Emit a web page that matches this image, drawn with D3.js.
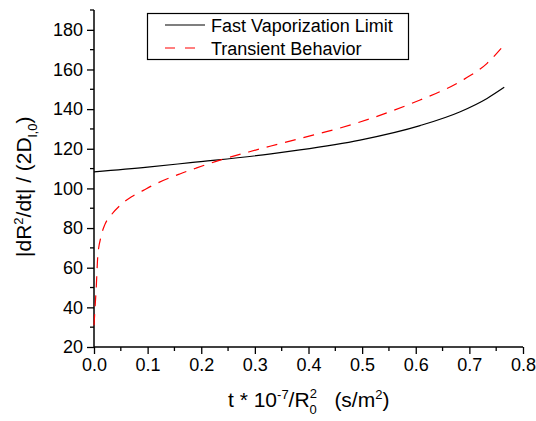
<!DOCTYPE html>
<html lang="en">
<head>
<meta charset="utf-8">
<script src="https://d3js.org/d3.v7.min.js"></script>
<style>
  body { margin: 0; background: #fff; }
  text { font-family: "Liberation Sans", Arial, sans-serif; fill: #000; }
</style>
</head>
<body>
<script>
// Fast Vaporization Limit (solid black)
const fastT = [0, 0.1, 0.18, 0.33, 0.384, 0.496, 0.608, 0.683, 0.733, 0.765];
const fastV = [108.3, 110.7, 113, 117.4, 119.4, 124.4, 131.7, 138.7, 145.4, 151];

// Transient Behavior (dashed red)
const transT = [0, 0.002, 0.004, 0.007, 0.013, 0.02, 0.031, 0.049, 0.07, 0.092, 0.11,
                0.16, 0.19, 0.235, 0.29, 0.33, 0.39, 0.45, 0.496, 0.55, 0.608, 0.683, 0.733, 0.765];
const transV = [31, 40, 49, 65.6, 75.6, 81.6, 86.2, 91.5, 95.8, 99, 101.6,
                107.3, 110.2, 114.3, 118.5, 121.4, 125.6, 129.8, 133.5, 138.5, 144.6, 153.9, 163.1, 172.4];

const xTicks = [0, 0.1, 0.2, 0.3, 0.4, 0.5, 0.6, 0.7, 0.8];
const yTicks = [20, 40, 60, 80, 100, 120, 140, 160, 180];
const seriesNames = ["Fast Vaporization Limit", "Transient Behavior"];

const W = 536, H = 421;
const margin = {left: 94, right: 13, top: 10, bottom: 74};

const svg = d3.select("body").append("svg")
  .attr("width", W).attr("height", H);

const x = d3.scaleLinear().domain([0, 0.8]).range([margin.left, W - margin.right]);
const y = d3.scaleLinear().domain([20, 190]).range([H - margin.bottom, margin.top]);

// minor ticks
const xMinor = d3.range(0.05, 0.8, 0.1);
const yMinor = d3.range(30, 191, 20);

svg.append("g").selectAll("line").data(xMinor).join("line")
  .attr("x1", d => x(d)).attr("x2", d => x(d))
  .attr("y1", y(20)).attr("y2", y(20) + 4)
  .attr("stroke", "#000").attr("stroke-width", 1.3);
svg.append("g").selectAll("line").data(yMinor).join("line")
  .attr("x1", x(0) - 4).attr("x2", x(0))
  .attr("y1", d => y(d)).attr("y2", d => y(d))
  .attr("stroke", "#000").attr("stroke-width", 1.3);

const xAxis = svg.append("g")
  .attr("transform", `translate(0,${y(20)})`)
  .call(d3.axisBottom(x).tickValues(xTicks).tickFormat(d3.format(".1f")).tickSize(7).tickPadding(4));
const yAxis = svg.append("g")
  .attr("transform", `translate(${x(0)},0)`)
  .call(d3.axisLeft(y).tickValues(yTicks).tickSize(7).tickPadding(4));

[xAxis, yAxis].forEach(a => {
  a.select(".domain").attr("stroke-width", 1.5).attr("d",
    a === xAxis ? `M${x(0)},0H${x(0.8)}` : `M0,${y(20)}V${y(190)}`);
  a.selectAll(".tick line").attr("stroke-width", 1.3);
  a.selectAll(".tick text").style("font-size", "18px")
    .style("font-family", '"Liberation Sans", Arial, sans-serif');
});

// lines
const line = d3.line().x(d => x(d[0])).y(d => y(d[1])).curve(d3.curveMonotoneX);

svg.append("path")
  .datum(fastT.map((t, i) => [t, fastV[i]]))
  .attr("d", line).attr("fill", "none")
  .attr("stroke", "#000").attr("stroke-width", 1.2);

svg.append("path")
  .datum(transT.map((t, i) => [t, transV[i]]))
  .attr("d", line).attr("fill", "none")
  .attr("stroke", "#ff0000").attr("stroke-width", 1.2)
  .attr("stroke-dasharray", "11,8");

// legend
const lg = svg.append("g");
lg.append("rect")
  .attr("x", 147.5).attr("y", 13.5).attr("width", 261).attr("height", 46)
  .attr("fill", "#fff").attr("stroke", "#000").attr("stroke-width", 1.2);
const styles = [{c: "#000", d: null}, {c: "#ff0000", d: "10,10"}];
seriesNames.forEach((name, i) => {
  const yy = 25 + i * 23;
  lg.append("line").attr("x1", 165).attr("x2", 205).attr("y1", yy).attr("y2", yy)
    .attr("stroke", styles[i].c).attr("stroke-width", 1.2)
    .attr("stroke-dasharray", styles[i].d);
  lg.append("text").attr("x", 211).attr("y", yy + 7)
    .style("font-size", "18px").text(name);
});

// x axis title
const xt = svg.append("text")
  .attr("x", 228).attr("y", 407)
  .style("font-size", "21px");
xt.append("tspan").text("t * 10");
xt.append("tspan").attr("dy", -8).style("font-size", "13px").text("-7");
xt.append("tspan").attr("dy", 8).text("/R");
xt.append("tspan").attr("dy", 7).style("font-size", "13px").text("0");
xt.append("tspan").attr("dx", -7.2).attr("dy", -16).style("font-size", "13px").text("2");
xt.append("tspan").attr("dy", 9).text("\u00a0\u00a0 (s/m");
xt.append("tspan").attr("dy", -8).style("font-size", "13px").text("2");
xt.append("tspan").attr("dy", 8).text(")");

// y axis title
const yt = svg.append("text")
  .attr("transform", "translate(31,257) rotate(-90)")
  .attr("x", 0).attr("y", 0)
  .style("font-size", "21px");
yt.append("tspan").text("|dR");
yt.append("tspan").attr("dy", -8).style("font-size", "13px").text("2");
yt.append("tspan").attr("dy", 8).text("/dt| / (2D");
yt.append("tspan").attr("dy", 6).style("font-size", "13px").text("l,0");
yt.append("tspan").attr("dy", -6).text(")");
</script>
</body>
</html>
